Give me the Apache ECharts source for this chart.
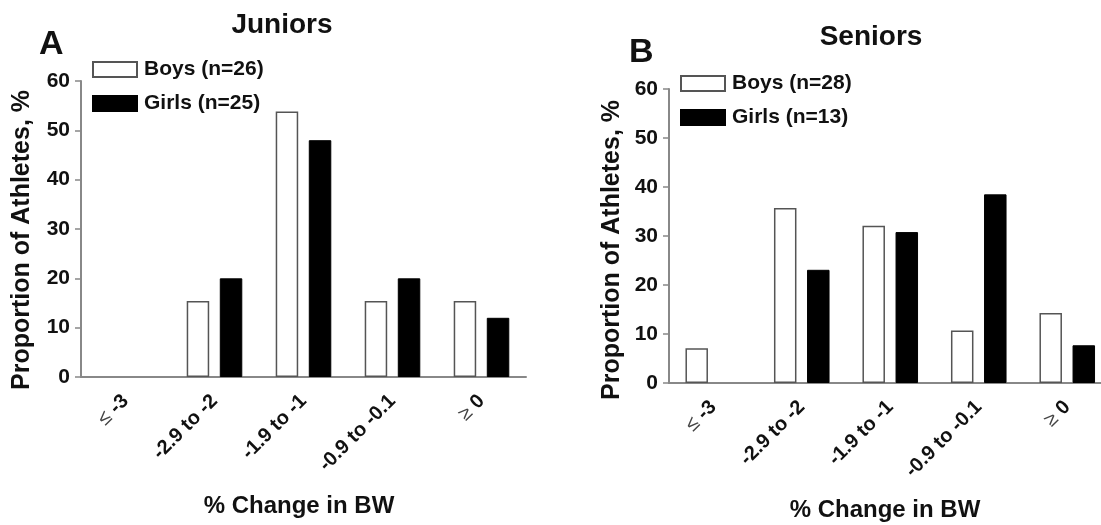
<!DOCTYPE html>
<html>
<head>
<meta charset="utf-8">
<script src="https://cdn.jsdelivr.net/npm/echarts@6/dist/echarts.min.js"></script>
<style>
html,body{margin:0;padding:0;background:#fff;}
#chart{width:1101px;height:525px;}
</style>
</head>
<body>
<div id="chart"></div>
<script>
// ---- data ----
const categories = ['≤ -3', '-2.9 to -2', '-1.9 to -1', '-0.9 to -0.1', '≥ 0'];
const juniorsBoys = [0, 15.4, 53.8, 15.4, 15.4];
const juniorsGirls = [0, 20, 48, 20, 12];
const seniorsBoys = [7.1, 35.7, 32.1, 10.7, 14.3];
const seniorsGirls = [0, 23.1, 30.8, 38.5, 7.7];
const yTicks = [0, 10, 20, 30, 40, 50, 60];
const seriesNames = {
  jb: 'Boys (n=26)', jg: 'Girls (n=25)',
  sb: 'Boys (n=28)', sg: 'Girls (n=13)'
};
const panelTitles = ['Juniors', 'Seniors'];
const panelLetters = ['A', 'B'];
const xName = '% Change in BW';
const yName = 'Proportion of Athletes, %';

// ---- styles ----
const FONT = '"Liberation Sans", Arial, Helvetica, sans-serif';
const AXIS_COLOR = '#888';
const TEXT_COLOR = '#111';

function prep(arr) {
  return arr.map(v => v === 0 ? { value: 0, itemStyle: { borderWidth: 0 } } : v);
}

const boysStyle = { color: '#fff', borderColor: '#555', borderWidth: 1.5 };
const girlsStyle = { color: '#000', borderColor: '#000', borderWidth: 1 };

function xAxisFor(gridIndex) {
  return {
    type: 'category', gridIndex: gridIndex, data: categories,
    axisLine: { show: true, lineStyle: { color: AXIS_COLOR, width: 2 } },
    axisTick: { show: false },
    axisLabel: {
      rotate: 45, margin: 21, interval: 0,
      fontFamily: FONT, fontSize: 20, fontWeight: 'bold', color: TEXT_COLOR,
      formatter: function (v) {
        if (v.charAt(0) === '≤' || v.charAt(0) === '≥') {
          return '{s|' + v.charAt(0) + '}{b|' + v.slice(1) + '}';
        }
        return '{b|' + v + '}';
      },
      rich: {
        s: { fontFamily: FONT, fontSize: 20, fontWeight: 'normal', color: '#444' },
        b: { fontFamily: FONT, fontSize: 20, fontWeight: 'bold', color: TEXT_COLOR }
      }
    },
    splitLine: { show: false }
  };
}
function yAxisFor(gridIndex) {
  return {
    type: 'value', gridIndex: gridIndex,
    min: yTicks[0], max: yTicks[yTicks.length - 1], interval: yTicks[1] - yTicks[0],
    axisLine: { show: true, lineStyle: { color: AXIS_COLOR, width: 2 } },
    axisTick: { show: true, length: 6, lineStyle: { color: AXIS_COLOR, width: 1.5 } },
    axisLabel: { margin: 11, fontFamily: FONT, fontSize: 21, fontWeight: 'bold', color: TEXT_COLOR },
    splitLine: { show: false }
  };
}
function legendFor(names, left, top) {
  return {
    orient: 'vertical', left: left, top: top, padding: 0,
    data: names,
    itemWidth: 44, itemHeight: 15, itemGap: 13,
    icon: 'rect',
    selectedMode: false,
    textStyle: { fontFamily: FONT, fontSize: 21, fontWeight: 'bold', color: TEXT_COLOR, padding: [0, 0, 0, 2] }
  };
}
function barSeries(name, data, xi, style) {
  return {
    type: 'bar', name: name, data: prep(data),
    xAxisIndex: xi, yAxisIndex: xi,
    barWidth: 22.5, barGap: '47%',
    itemStyle: style,
    emphasis: { disabled: true },
    animation: false
  };
}

const chart = echarts.init(document.getElementById('chart'), null, { renderer: 'canvas' });
chart.setOption({
  backgroundColor: '#fff',
  animation: false,
  title: [
    { text: panelTitles[0], left: 282, top: 11, textAlign: 'center', padding: 0,
      textStyle: { fontFamily: FONT, fontSize: 28, fontWeight: 'bold', color: TEXT_COLOR } },
    { text: panelTitles[1], left: 871, top: 23, textAlign: 'center', padding: 0,
      textStyle: { fontFamily: FONT, fontSize: 28, fontWeight: 'bold', color: TEXT_COLOR } },
    { text: panelLetters[0], left: 39, top: 28, padding: 0,
      textStyle: { fontFamily: FONT, fontSize: 34, fontWeight: 'bold', color: TEXT_COLOR } },
    { text: panelLetters[1], left: 629, top: 36, padding: 0,
      textStyle: { fontFamily: FONT, fontSize: 34, fontWeight: 'bold', color: TEXT_COLOR } }
  ],
  legend: [
    legendFor([seriesNames.jb, seriesNames.jg], 92, 59),
    legendFor([seriesNames.sb, seriesNames.sg], 680, 73)
  ],
  grid: [
    { left: 81, top: 81, width: 445, height: 296, outerBoundsMode: 'none' },
    { left: 669, top: 89, width: 442.5, height: 294, outerBoundsMode: 'none' }
  ],
  xAxis: [xAxisFor(0), xAxisFor(1)],
  yAxis: [yAxisFor(0), yAxisFor(1)],
  series: [
    barSeries(seriesNames.jb, juniorsBoys, 0, boysStyle),
    barSeries(seriesNames.jg, juniorsGirls, 0, girlsStyle),
    barSeries(seriesNames.sb, seniorsBoys, 1, boysStyle),
    barSeries(seriesNames.sg, seniorsGirls, 1, girlsStyle)
  ],
  graphic: [
    { type: 'text', x: 22, y: 240, rotation: Math.PI / 2,
      style: { text: yName, font: 'bold 25px ' + FONT, fill: TEXT_COLOR, textAlign: 'center', textVerticalAlign: 'middle' } },
    { type: 'text', x: 612, y: 250, rotation: Math.PI / 2,
      style: { text: yName, font: 'bold 25px ' + FONT, fill: TEXT_COLOR, textAlign: 'center', textVerticalAlign: 'middle' } },
    { type: 'text', x: 299, y: 506,
      style: { text: xName, font: 'bold 24px ' + FONT, fill: TEXT_COLOR, textAlign: 'center', textVerticalAlign: 'middle' } },
    { type: 'text', x: 885, y: 510,
      style: { text: xName, font: 'bold 24px ' + FONT, fill: TEXT_COLOR, textAlign: 'center', textVerticalAlign: 'middle' } }
  ]
});
</script>
</body>
</html>
